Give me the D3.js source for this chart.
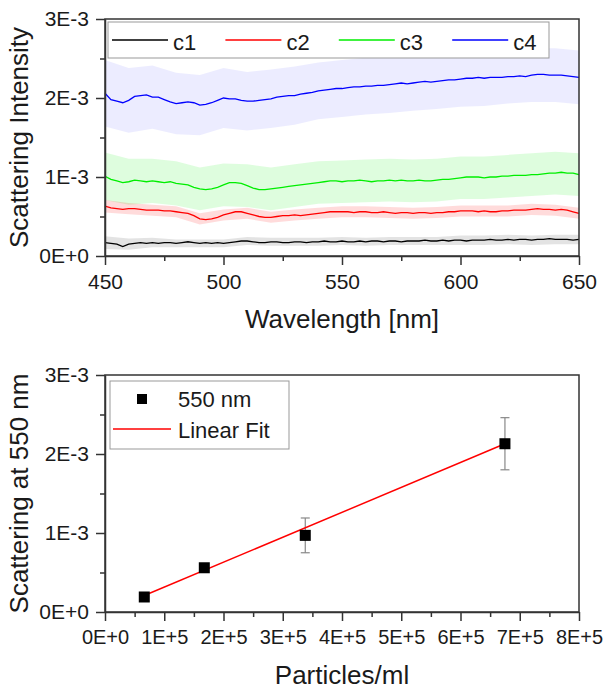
<!DOCTYPE html>
<html>
<head>
<meta charset="utf-8">
<script src="https://cdn.jsdelivr.net/npm/d3@7"></script>
<style>
body { margin: 0; background: #fff; }
svg text { font-family: "Liberation Sans", Arial, sans-serif; fill: #1a1a1a; }
</style>
</head>
<body>
<svg id="chart" width="606" height="690"></svg>
<script>
// ---- data (scattering values in units of 1E-3) ----
var seriesNames = ["c1", "c2", "c3", "c4"];
var seriesColors = ["#000000", "#ff0000", "#00ee00", "#0000ff"];
var bandOpacity = [0.11, 0.14, 0.13, 0.075];

// spectra sampled every 2.5 nm from 450 to 650 nm
var wlStart = 450, wlStep = 2.5;
var c1 = [0.17,0.16,0.15,0.12,0.15,0.16,0.17,0.16,0.17,0.16,
          0.17,0.17,0.16,0.17,0.18,0.17,0.16,0.17,0.16,0.17,
          0.16,0.17,0.18,0.19,0.19,0.18,0.17,0.17,0.18,0.18,
          0.17,0.17,0.18,0.18,0.17,0.18,0.18,0.19,0.18,0.18,
          0.19,0.18,0.18,0.19,0.18,0.19,0.19,0.18,0.19,0.19,
          0.18,0.19,0.19,0.19,0.20,0.19,0.19,0.20,0.19,0.20,
          0.20,0.19,0.20,0.20,0.20,0.21,0.20,0.20,0.21,0.20,
          0.21,0.21,0.20,0.21,0.21,0.22,0.21,0.21,0.21,0.20,
          0.21];
var c2 = [0.63,0.61,0.60,0.59,0.60,0.60,0.59,0.58,0.58,0.58,
          0.57,0.57,0.56,0.55,0.54,0.51,0.47,0.46,0.47,0.49,
          0.52,0.54,0.56,0.56,0.54,0.52,0.50,0.49,0.49,0.50,
          0.51,0.51,0.52,0.51,0.52,0.53,0.54,0.55,0.56,0.56,
          0.56,0.56,0.55,0.56,0.56,0.55,0.55,0.56,0.55,0.54,
          0.55,0.55,0.54,0.55,0.55,0.54,0.55,0.55,0.56,0.56,
          0.57,0.57,0.57,0.56,0.57,0.56,0.56,0.57,0.57,0.58,
          0.58,0.58,0.59,0.60,0.59,0.59,0.58,0.59,0.58,0.56,
          0.54];
var c3 = [1.01,0.97,0.95,0.93,0.94,0.96,0.95,0.94,0.95,0.94,
          0.93,0.94,0.92,0.91,0.90,0.87,0.85,0.84,0.85,0.87,
          0.90,0.93,0.93,0.92,0.89,0.86,0.84,0.84,0.85,0.86,
          0.87,0.88,0.89,0.90,0.91,0.92,0.93,0.94,0.95,0.95,
          0.94,0.95,0.95,0.96,0.95,0.94,0.95,0.95,0.96,0.95,
          0.96,0.95,0.95,0.96,0.95,0.95,0.96,0.97,0.97,0.98,
          0.99,1.00,1.00,1.00,0.99,1.00,1.00,1.01,1.01,1.02,
          1.02,1.02,1.03,1.03,1.04,1.05,1.05,1.06,1.05,1.05,
          1.03];
var c4 = [2.06,1.98,1.96,1.94,1.97,2.02,2.03,2.04,2.01,2.01,
          1.98,1.95,1.93,1.94,1.95,1.94,1.91,1.92,1.94,1.97,
          2.00,1.99,1.99,1.97,1.96,1.96,1.97,1.98,1.99,2.01,
          2.02,2.03,2.03,2.05,2.06,2.07,2.09,2.10,2.11,2.12,
          2.12,2.13,2.14,2.14,2.15,2.15,2.16,2.16,2.17,2.18,
          2.19,2.18,2.19,2.20,2.21,2.20,2.21,2.22,2.23,2.23,
          2.24,2.25,2.25,2.26,2.25,2.26,2.26,2.26,2.27,2.27,
          2.28,2.27,2.29,2.30,2.30,2.29,2.29,2.29,2.28,2.27,
          2.26];

// standard deviation bands, every 10 nm (450..650)
var bandStep = 4; // every 4th spectrum sample
var c1sd = [0.08,0.07,0.06,0.05,0.05,0.05,0.05,0.05,0.05,0.05,0.05,0.05,0.05,0.05,0.05,0.06,0.06,0.06,0.06,0.06,0.06];
var c2sd = [0.08,0.07,0.07,0.07,0.07,0.07,0.07,0.07,0.07,0.07,0.07,0.07,0.07,0.07,0.07,0.07,0.07,0.07,0.07,0.07,0.07];
var c3sd = [0.30,0.29,0.28,0.28,0.27,0.27,0.27,0.27,0.27,0.27,0.27,0.27,0.27,0.27,0.27,0.27,0.27,0.27,0.27,0.27,0.27];
var c4sd = [0.42,0.41,0.40,0.39,0.38,0.38,0.37,0.37,0.37,0.36,0.36,0.36,0.36,0.35,0.35,0.35,0.35,0.34,0.34,0.34,0.34];

// 550 nm scattering vs particle concentration
var particles = [0.663e5, 1.676e5, 3.38e5, 6.75e5];
var scatter550 = [0.19, 0.56, 0.97, 2.13];
var scatter550Err = [0.02, 0.03, 0.22, 0.33];
var fitSlope = 0.3154e-5;   // per particle/ml, in units of 1E-3
var fitIntercept = 0.0;

// ticks
var wlTicks = [450, 500, 550, 600, 650];
var wlMinor = [475, 525, 575, 625];
var yTicks = [0, 1e-3, 2e-3, 3e-3];
var yMinor = [0.5e-3, 1.5e-3, 2.5e-3];
var pTicks = [0, 1e5, 2e5, 3e5, 4e5, 5e5, 6e5, 7e5, 8e5];
var pMinor = [0.5e5, 1.5e5, 2.5e5, 3.5e5, 4.5e5, 5.5e5, 6.5e5, 7.5e5];

// ---- layout ----
var axisColor = "#333";
var plotLeft = 105, plotWidth = 474, plotHeight = 237;
var topY = 19, bottomY = 375;

var svg = d3.select("#chart");
var sciFmt = function(d){ return d3.format(".0e")(d).toUpperCase(); };

function drawAxes(g, x, y, xt, xm, yt, ym, xFont, xPad){
  g.append("rect")
    .attr("width", plotWidth).attr("height", plotHeight)
    .attr("fill", "none").attr("stroke", axisColor).attr("stroke-width", 1.5);

  var ax = g.append("g").attr("transform", "translate(0," + plotHeight + ")")
    .call(d3.axisBottom(x).tickValues(xt).tickSize(9).tickSizeOuter(0).tickPadding(xPad).tickFormat(xt[0] === 0 ? sciFmt : d3.format("d")));
  ax.selectAll("text").style("font-size", xFont + "px");
  var axm = g.append("g").attr("transform", "translate(0," + plotHeight + ")")
    .call(d3.axisBottom(x).tickValues(xm).tickSize(5).tickFormat(""));
  axm.select(".domain").remove();

  var ay = g.append("g")
    .call(d3.axisLeft(y).tickValues(yt).tickSize(9).tickSizeOuter(0).tickPadding(7).tickFormat(sciFmt));
  ay.selectAll("text").style("font-size", "21px");
  var aym = g.append("g")
    .call(d3.axisLeft(y).tickValues(ym).tickSize(5).tickFormat(""));
  aym.select(".domain").remove();

  g.selectAll(".domain, .tick line").attr("stroke", axisColor).attr("stroke-width", 1.5);
  g.selectAll(".tick text").attr("fill", "#1a1a1a");
}

// ---- top chart: spectra ----
var gTop = svg.append("g").attr("transform", "translate(" + plotLeft + "," + topY + ")");
var x1 = d3.scaleLinear().domain([450, 650]).range([0, plotWidth]);
var y1 = d3.scaleLinear().domain([0, 3e-3]).range([plotHeight, 0]);

var spectra = [c1, c2, c3, c4];
var bands = [c1sd, c2sd, c3sd, c4sd];

var area = d3.area()
  .x(function(d){ return x1(d.wl); })
  .y0(function(d){ return y1(d.lo * 1e-3); })
  .y1(function(d){ return y1(d.hi * 1e-3); });

for (var k = 3; k >= 0; k--) {
  var bd = bands[k].map(function(sd, i){
    var m = spectra[k][i * bandStep];
    return { wl: wlStart + i * bandStep * wlStep, lo: m - sd, hi: m + sd };
  });
  gTop.append("path").datum(bd)
    .attr("d", area)
    .attr("fill", seriesColors[k])
    .attr("fill-opacity", bandOpacity[k]);
}

var line = d3.line()
  .x(function(d, i){ return x1(wlStart + i * wlStep); })
  .y(function(d){ return y1(d * 1e-3); });

for (k = 3; k >= 0; k--) {
  gTop.append("path").datum(spectra[k])
    .attr("d", line)
    .attr("fill", "none")
    .attr("stroke", seriesColors[k])
    .attr("stroke-width", 1.3);
}

drawAxes(gTop, x1, y1, wlTicks, wlMinor, yTicks, yMinor, 21, 9);

// legend
var lg = svg.append("g");
lg.append("rect").attr("x", 108).attr("y", 22).attr("width", 441).attr("height", 36)
  .attr("fill", "#fff").attr("stroke", "#999").attr("stroke-width", 1);
seriesNames.forEach(function(n, i){
  var lx = 112 + i * 113.4;
  lg.append("line").attr("x1", lx).attr("x2", lx + 56).attr("y1", 40).attr("y2", 40)
    .attr("stroke", seriesColors[i]).attr("stroke-width", 1.3);
  lg.append("text").attr("x", lx + 61).attr("y", 49.5).style("font-size", "22px").text(n);
});

// titles
svg.append("text").attr("x", plotLeft + plotWidth / 2).attr("y", 328)
  .attr("text-anchor", "middle").style("font-size", "26px").text("Wavelength [nm]");
svg.append("text").attr("transform", "translate(28," + (topY + plotHeight / 2) + ") rotate(-90)")
  .attr("text-anchor", "middle").style("font-size", "26px").text("Scattering Intensity");

// ---- bottom chart: scattering at 550 nm ----
var gBot = svg.append("g").attr("transform", "translate(" + plotLeft + "," + bottomY + ")");
var x2 = d3.scaleLinear().domain([0, 8e5]).range([0, plotWidth]);
var y2 = d3.scaleLinear().domain([0, 3e-3]).range([plotHeight, 0]);

drawAxes(gBot, x2, y2, pTicks, pMinor, yTicks, yMinor, 20, 9);

var pts = particles.map(function(p, i){
  return { x: p, y: scatter550[i], e: scatter550Err[i] };
});

// error bars
var eb = gBot.selectAll(".err").data(pts).enter().append("g").attr("class", "err")
  .attr("stroke", "#888").attr("stroke-width", 1.2);
eb.append("line")
  .attr("x1", function(d){ return x2(d.x); }).attr("x2", function(d){ return x2(d.x); })
  .attr("y1", function(d){ return y2((d.y - d.e) * 1e-3); })
  .attr("y2", function(d){ return y2((d.y + d.e) * 1e-3); });
eb.append("line")
  .attr("x1", function(d){ return x2(d.x) - 4.5; }).attr("x2", function(d){ return x2(d.x) + 4.5; })
  .attr("y1", function(d){ return y2((d.y + d.e) * 1e-3); })
  .attr("y2", function(d){ return y2((d.y + d.e) * 1e-3); });
eb.append("line")
  .attr("x1", function(d){ return x2(d.x) - 4.5; }).attr("x2", function(d){ return x2(d.x) + 4.5; })
  .attr("y1", function(d){ return y2((d.y - d.e) * 1e-3); })
  .attr("y2", function(d){ return y2((d.y - d.e) * 1e-3); });

// linear fit
var fitX = d3.extent(particles);
gBot.append("line")
  .attr("x1", x2(fitX[0])).attr("x2", x2(fitX[1]))
  .attr("y1", y2((fitSlope * fitX[0] + fitIntercept) * 1e-3))
  .attr("y2", y2((fitSlope * fitX[1] + fitIntercept) * 1e-3))
  .attr("stroke", "#ff0000").attr("stroke-width", 1.5);

// points
gBot.selectAll(".pt").data(pts).enter().append("rect")
  .attr("class", "pt")
  .attr("x", function(d){ return x2(d.x) - 5.5; })
  .attr("y", function(d){ return y2(d.y * 1e-3) - 5.5; })
  .attr("width", 11).attr("height", 11)
  .attr("fill", "#000");

// legend
var lg2 = svg.append("g");
lg2.append("rect").attr("x", 110).attr("y", 381).attr("width", 179).attr("height", 68)
  .attr("fill", "#fff").attr("stroke", "#999").attr("stroke-width", 1);
lg2.append("rect").attr("x", 137).attr("y", 394).attr("width", 10).attr("height", 10).attr("fill", "#000");
lg2.append("text").attr("x", 178).attr("y", 407).style("font-size", "22px").text("550 nm");
lg2.append("line").attr("x1", 113).attr("x2", 171).attr("y1", 429).attr("y2", 429)
  .attr("stroke", "#ff0000").attr("stroke-width", 1.5);
lg2.append("text").attr("x", 178).attr("y", 438).style("font-size", "22px").text("Linear Fit");

// titles
svg.append("text").attr("x", plotLeft + plotWidth / 2).attr("y", 684)
  .attr("text-anchor", "middle").style("font-size", "26px").text("Particles/ml");
svg.append("text").attr("transform", "translate(28," + (bottomY + plotHeight / 2) + ") rotate(-90)")
  .attr("text-anchor", "middle").style("font-size", "26px").text("Scattering at 550 nm");
</script>
</body>
</html>
